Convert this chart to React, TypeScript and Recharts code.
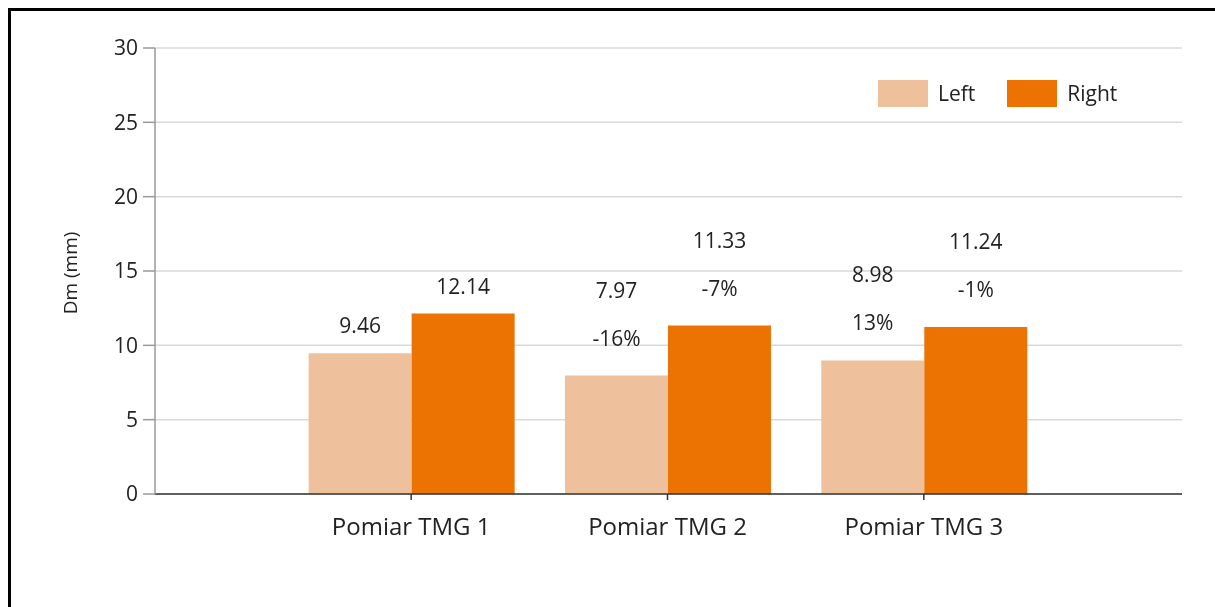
import {
  BarChart,
  Bar,
  XAxis,
  YAxis,
  CartesianGrid,
  Legend,
  LabelList,
} from "recharts";

const categories = ["Pomiar TMG 1", "Pomiar TMG 2", "Pomiar TMG 3"];
const leftValues = [9.46, 7.97, 8.98];
const rightValues = [12.14, 11.33, 11.24];
// zmiana procentowa względem poprzedniego pomiaru
const leftChange = ["", "-16%", "13%"];
const rightChange = ["", "-7%", "-1%"];
const yTicks = [0, 5, 10, 15, 20, 25, 30];

const LEFT_COLOR = "#EEC19C";
const RIGHT_COLOR = "#EC7202";
const TEXT_COLOR = "#222";
const FONT = "'Open Sans', sans-serif";

const data = categories.map((name, i) => ({
  name,
  left: leftValues[i],
  right: rightValues[i],
}));

const makeLabel = (changes: string[]) => (props: any) => {
  const { x, y, width, value, index } = props;
  const cx = Number(x) + Number(width) / 2;
  const top = Number(y);
  const change = changes[index];
  if (!change) {
    return (
      <text
        x={cx}
        y={top - 28}
        textAnchor="middle"
        dominantBaseline="central"
        fontSize={21}
        fontFamily={FONT}
        fill={TEXT_COLOR}
      >
        {value}
      </text>
    );
  }
  return (
    <g>
      <text
        x={cx}
        y={top - 86}
        textAnchor="middle"
        dominantBaseline="central"
        fontSize={21}
        fontFamily={FONT}
        fill={TEXT_COLOR}
      >
        {value}
      </text>
      <text
        x={cx}
        y={top - 38}
        textAnchor="middle"
        dominantBaseline="central"
        fontSize={21}
        fontFamily={FONT}
        fill={TEXT_COLOR}
      >
        {change}
      </text>
    </g>
  );
};

const renderLegend = (props: any) => {
  const { payload } = props;
  return (
    <div style={{ display: "flex", alignItems: "center", fontFamily: FONT }}>
      {(payload || []).map((item: any, i: number) => (
        <div
          key={item.value}
          style={{
            display: "flex",
            alignItems: "center",
            marginLeft: i === 0 ? 0 : 32,
          }}
        >
          <div
            style={{ width: 50, height: 27, background: item.color, marginRight: 10 }}
          />
          <span style={{ fontSize: 21, color: TEXT_COLOR, lineHeight: "27px" }}>
            {item.value}
          </span>
        </div>
      ))}
    </div>
  );
};

export default function App() {
  return (
    <div>
      {/* ramka: tylko górna i lewa krawędź są widoczne */}
      <div
        style={{ position: "fixed", left: 8, top: 8, width: 1207, height: 3, background: "#000" }}
      />
      <div
        style={{ position: "fixed", left: 8, top: 8, width: 3, height: 599, background: "#000" }}
      />
      <div style={{ position: "fixed", left: 11, top: 11 }}>
        <BarChart
          width={1196}
          height={585}
          data={data}
          margin={{ top: 37, right: 25, left: 0, bottom: 52 }}
          barCategoryGap="10%"
          barGap={0}
        >
          <CartesianGrid vertical={false} stroke="#d9d9d9" strokeWidth={1.5} />
          <XAxis
            dataKey="name"
            padding={{ left: 128, right: 130 }}
            height={50}
            tickSize={6}
            tickMargin={18}
            stroke="#333"
            strokeWidth={1.5}
            tick={{ fontSize: 24, fontFamily: FONT, fill: TEXT_COLOR }}
          />
          <YAxis
            width={144}
            domain={[0, 30]}
            ticks={yTicks}
            tickSize={12}
            tickMargin={5}
            stroke="#999"
            strokeWidth={1.5}
            tick={{ fontSize: 21, fontFamily: FONT, fill: TEXT_COLOR }}
            label={{
              content: (p: any) => {
                const vb = p.viewBox || { x: 0, y: 37, height: 446 };
                const lx = vb.x + 59;
                const ly = vb.y + vb.height / 2 + 2;
                return (
                  <text
                    x={lx}
                    y={ly}
                    transform={`rotate(-90 ${lx} ${ly})`}
                    textAnchor="middle"
                    dominantBaseline="central"
                    fontSize={19}
                    fontFamily={FONT}
                    fill={TEXT_COLOR}
                  >
                    Dm (mm)
                  </text>
                );
              },
            }}
          />
          <Legend
            layout="vertical"
            align="center"
            verticalAlign="middle"
            wrapperStyle={{ left: 867, top: 69, width: "auto" }}
            content={renderLegend}
          />
          <Bar dataKey="left" name="Left" fill={LEFT_COLOR} isAnimationActive={false}>
            <LabelList dataKey="left" content={makeLabel(leftChange)} />
          </Bar>
          <Bar dataKey="right" name="Right" fill={RIGHT_COLOR} isAnimationActive={false}>
            <LabelList dataKey="right" content={makeLabel(rightChange)} />
          </Bar>
        </BarChart>
      </div>
    </div>
  );
}
